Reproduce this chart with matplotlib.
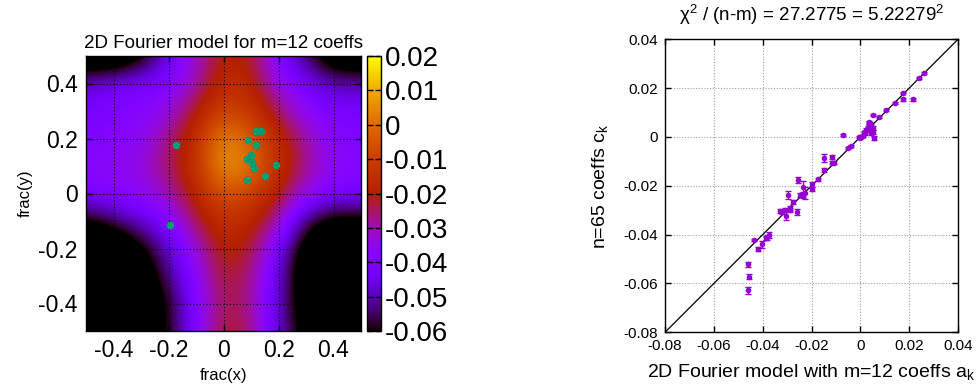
import numpy as np
import matplotlib
matplotlib.use("Agg")
import matplotlib.pyplot as plt

plt.rcParams['font.family'] = ['Liberation Sans', 'DejaVu Sans']
plt.rcParams['axes.unicode_minus'] = False
plt.rcParams['mathtext.fontset'] = 'custom'
plt.rcParams['mathtext.rm'] = 'Liberation Sans'
plt.rcParams['mathtext.it'] = 'Liberation Sans'

# ---------------- data: heatmap (model values on grid, rows y=0.5 -> -0.5, cols x=-0.5 -> 0.5)
grid_x = [-0.5, -0.4, -0.3, -0.2, -0.1, 0.0, 0.1, 0.2, 0.3, 0.4, 0.5]
grid_y = [0.5, 0.4, 0.3, 0.2, 0.1, 0.0, -0.1, -0.2, -0.3, -0.4, -0.5]
model_rows = [
    [-0.075, -0.075, -0.065, -0.045, -0.032, -0.019, -0.021, -0.040, -0.055, -0.070, -0.075],
    [-0.047, -0.043, -0.041, -0.040, -0.030, -0.015, -0.018, -0.035, -0.042, -0.050, -0.048],
    [-0.042, -0.040, -0.039, -0.034, -0.021, -0.008, -0.012, -0.025, -0.037, -0.041, -0.042],
    [-0.040, -0.039, -0.036, -0.027, -0.015, 0.006, -0.003, -0.016, -0.029, -0.038, -0.040],
    [-0.038, -0.036, -0.034, -0.025, -0.014, 0.009, 0.001, -0.014, -0.027, -0.037, -0.038],
    [-0.041, -0.038, -0.036, -0.030, -0.018, -0.004, -0.009, -0.020, -0.034, -0.040, -0.041],
    [-0.062, -0.055, -0.047, -0.040, -0.024, -0.014, -0.017, -0.029, -0.055, -0.065, -0.063],
    [-0.080, -0.075, -0.063, -0.048, -0.033, -0.018, -0.022, -0.042, -0.068, -0.080, -0.080],
    [-0.090, -0.085, -0.070, -0.053, -0.037, -0.021, -0.026, -0.047, -0.070, -0.085, -0.090],
    [-0.090, -0.085, -0.072, -0.060, -0.039, -0.023, -0.027, -0.048, -0.068, -0.080, -0.090],
    [-0.080, -0.080, -0.070, -0.060, -0.039, -0.021, -0.025, -0.048, -0.065, -0.075, -0.080],
]
# measured positions (green dots)
pos_x = [-0.171, -0.196, 0.088, 0.119, 0.135, 0.117, 0.099, 0.087, 0.105, 0.111, 0.192, 0.151, 0.087]
pos_y = [0.178, -0.113, 0.196, 0.229, 0.228, 0.175, 0.141, 0.127, 0.110, 0.091, 0.102, 0.065, 0.049]

cbar_ticks = [0.02, 0.01, 0.0, -0.01, -0.02, -0.03, -0.04, -0.05, -0.06]
cbar_labels = ['0.02', '0.01', '0', '-0.01', '-0.02', '-0.03', '-0.04', '-0.05', '-0.06']
frac_ticks = [-0.4, -0.2, 0.0, 0.2, 0.4]
frac_labels = ['-0.4', '-0.2', '0', '0.2', '0.4']

# ---------------- data: comparison scatter
a_k = [0.0261, 0.0240, 0.0216, 0.0175, 0.0175, 0.0141, 0.0107, 0.0077, 0.0052, 0.0036,
       -0.0073, 0.0056, -0.0040, -0.0050,
       0.0000, 0.0010, 0.0020, 0.0025, 0.0030, 0.0035, 0.0040, 0.0045, 0.0050, 0.0045, 0.0050,
       0.0045, 0.0015, 0.0000, -0.0005,
       -0.0114, -0.0148, -0.0114, -0.0109, -0.0148, -0.0175, -0.0196, -0.0196,
       -0.0234, -0.0257, -0.0236, -0.0227, -0.0248, -0.0296, -0.0275, -0.0290, -0.0258,
       -0.0305, -0.0319, -0.0327, -0.0309, -0.0289,
       -0.0373, -0.0381, -0.0387, -0.0402, -0.0421, -0.0436,
       -0.0459, -0.0455, -0.0459]
c_k = [0.0261, 0.0240, 0.0154, 0.0179, 0.0154, 0.0138, 0.0110, 0.0081, 0.0089, 0.0058,
       0.0007, -0.0004, -0.0037, -0.0044,
       0.0000, 0.0005, 0.0015, 0.0030, 0.0040, 0.0060, 0.0055, 0.0045, 0.0035, 0.0025, 0.0020,
       0.0015, 0.0020, -0.0005, 0.0000,
       -0.0081, -0.0087, -0.0105, -0.0105, -0.0135, -0.0174, -0.0194, -0.0214,
       -0.0204, -0.0176, -0.0240, -0.0231, -0.0238, -0.0238, -0.0268, -0.0290, -0.0307,
       -0.0322, -0.0306, -0.0302, -0.0299, -0.0299,
       -0.0401, -0.0410, -0.0415, -0.0440, -0.0460, -0.0422,
       -0.0521, -0.0572, -0.0628]
c_err = [0.0004, 0.0004, 0.0005, 0.0005, 0.0006, 0.0005, 0.0005, 0.0004, 0.0005, 0.0005,
         0.0004, 0.0007, 0.0004, 0.0004,
         0.0005, 0.0005, 0.0005, 0.0006, 0.0006, 0.0006, 0.0006, 0.0008, 0.0008, 0.0010, 0.0008,
         0.0006, 0.0005, 0.0005, 0.0005,
         0.0008, 0.0016, 0.0007, 0.0007, 0.0007, 0.0006, 0.0010, 0.0008,
         0.0022, 0.0013, 0.0010, 0.0025, 0.0008, 0.0015, 0.0008, 0.0008, 0.0012,
         0.0020, 0.0008, 0.0008, 0.0010, 0.0010,
         0.0012, 0.0010, 0.0008, 0.0013, 0.0009, 0.0006,
         0.0010, 0.0009, 0.0015]
ax_ticks = [-0.08, -0.06, -0.04, -0.02, 0.0, 0.02, 0.04]
ax_labels = ['-0.08', '-0.06', '-0.04', '-0.02', '0', '0.02', '0.04']

# ---------------- figure
fig = plt.figure(figsize=(9.8, 3.89), dpi=100)

# heatmap
ax1 = fig.add_axes([86/980, 1-331/389, 275/980, 275/389])
Z = np.array(model_rows)
dx = (grid_x[1]-grid_x[0]) / 2
im = ax1.imshow(Z, cmap='gnuplot', vmin=-0.06, vmax=0.02, interpolation='bicubic',
                extent=[grid_x[0]-dx, grid_x[-1]+dx, grid_y[-1]-dx, grid_y[0]+dx],
                origin='upper', aspect='auto')
ax1.set_xlim(-0.5, 0.5)
ax1.set_ylim(-0.5, 0.5)
ax1.plot(pos_x, pos_y, 'o', color='#009e73', ms=5.5, mec='none', zorder=3)
ax1.set_xticks(frac_ticks)
ax1.set_xticklabels(frac_labels)
ax1.set_yticks(frac_ticks)
ax1.set_yticklabels(frac_labels)
ax1.tick_params(direction='in', length=4, width=1, labelsize=16.5, top=True, right=True, pad=6)
ax1.grid(True, color='black', linestyle=(0, (1, 2)), linewidth=0.8)
ax1.set_axisbelow(False)
ax1.set_xlabel('frac(x)', fontsize=12, labelpad=4)
ax1.set_ylabel('frac(y)', fontsize=12, labelpad=4)
ax1.set_title('2D Fourier model for m=12 coeffs', fontsize=13.5, pad=6)
for s in ax1.spines.values():
    s.set_linewidth(1)

cax = fig.add_axes([367/980, 1-331/389, 14/980, 275/389])
cb = fig.colorbar(im, cax=cax)
cb.set_ticks(cbar_ticks)
cb.set_ticklabels(cbar_labels)
cax.tick_params(direction='in', length=4, width=1, labelsize=20, left=True, right=True, pad=3)
cb.outline.set_linewidth(1)

# comparison scatter
ax2 = fig.add_axes([665/980, 1-332.3/389, 293/980, 293/389])
ax2.plot(ax_ticks[0:1] + ax_ticks[-1:], ax_ticks[0:1] + ax_ticks[-1:], color='black', lw=0.9, zorder=2)
ax2.errorbar(a_k, c_k, yerr=c_err, fmt='o', color='#9400d3', ms=4, mec='none',
             elinewidth=1, capsize=2.5, capthick=1, zorder=3)
ax2.set_xlim(-0.08, 0.04)
ax2.set_ylim(-0.08, 0.04)
ax2.set_xticks(ax_ticks)
ax2.set_xticklabels(ax_labels)
ax2.set_yticks(ax_ticks)
ax2.set_yticklabels(ax_labels)
ax2.tick_params(direction='in', length=4, width=1, labelsize=11, top=True, right=True, pad=5)
ax2.grid(True, color='#a0a0a0', linestyle=(0, (1, 1.5)), linewidth=0.8)
ax2.set_axisbelow(True)
ax2.set_xlabel('2D Fourier model with m=12 coeffs a$_\\mathregular{k}$', fontsize=14, labelpad=6)
ax2.set_ylabel('n=65 coeffs c$_\\mathregular{k}$', fontsize=14, labelpad=10)
ax2.set_title('\u03c7$^\\mathregular{2}$ / (n-m) = 27.2775 = 5.22279$^\\mathregular{2}$', fontsize=13.5, pad=13)
for s in ax2.spines.values():
    s.set_linewidth(1)

fig.savefig('out.png', dpi=100)
